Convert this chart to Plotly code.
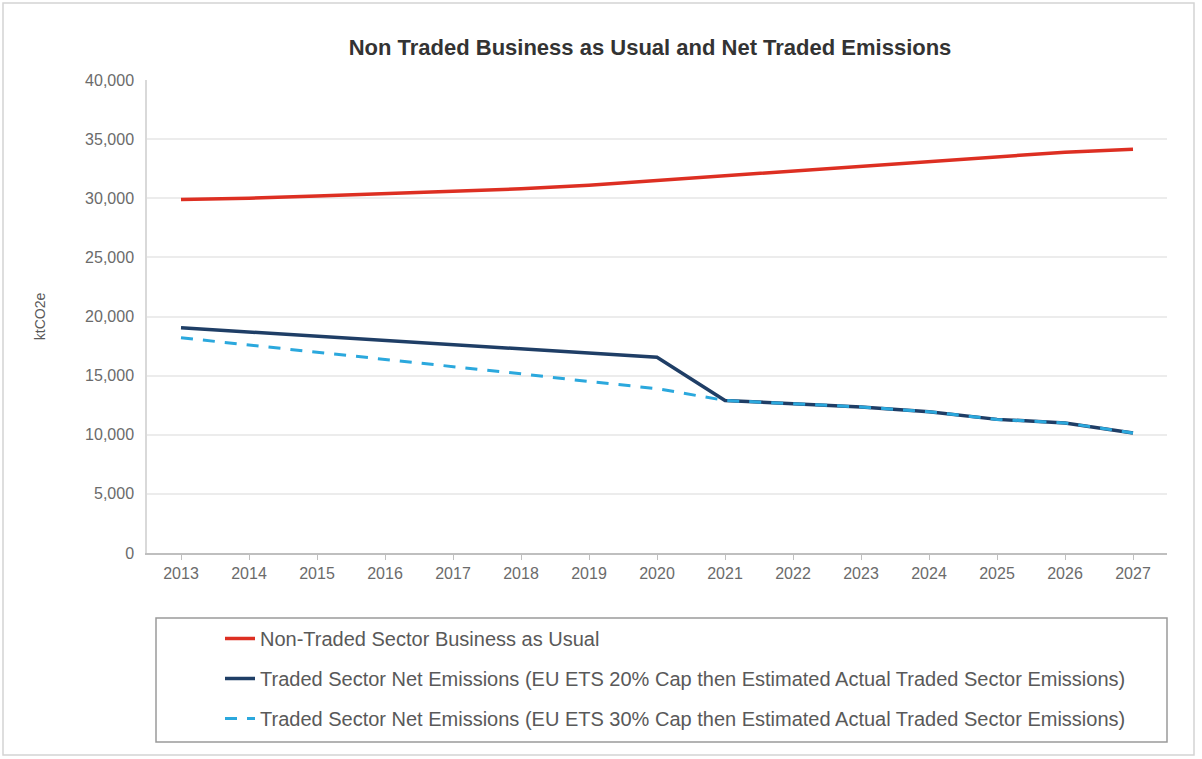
import plotly.graph_objects as go

# Years on the category axis
years = [str(y) for y in range(2013, 2028)]

# Non-traded sector, business as usual (ktCO2e)
non_traded_bau = [29900, 30000, 30200, 30400, 30600, 30800, 31100, 31500,
                  31950, 32300, 32700, 33100, 33500, 33900, 34150]

# Traded sector net emissions, EU ETS 20% cap then estimated actual
traded_20 = [19050, 18700, 18350, 18000, 17650, 17300, 16950, 16550,
             12900, 12600, 12350, 11950, 11300, 11000, 10150]

# Traded sector net emissions, EU ETS 30% cap then estimated actual
traded_30 = [18200, 17600, 17000, 16400, 15800, 15150, 14500, 13900,
             12900, 12600, 12350, 11950, 11300, 11000, 10150]

names = [
    "Non-Traded Sector Business as Usual",
    "Traded Sector Net Emissions (EU ETS 20% Cap then Estimated Actual Traded Sector Emissions)",
    "Traded Sector Net Emissions (EU ETS 30% Cap then Estimated Actual Traded Sector Emissions)",
]

FONT = "Liberation Sans, Arial, sans-serif"

fig = go.Figure()
fig.add_trace(go.Scatter(
    x=years, y=non_traded_bau, mode="lines", name=names[0], legendgroup="a",
    line=dict(color="#DD2F22", width=3.5)))
fig.add_trace(go.Scatter(
    x=years, y=traded_20, mode="lines", name=names[1], legendgroup="b",
    line=dict(color="#1F3E66", width=3.5)))
fig.add_trace(go.Scatter(
    x=years, y=traded_30, mode="lines", name=names[2], legendgroup="c",
    line=dict(color="#2BA8DD", width=3, dash="12px,10px")))

# legend frame and outer chart border
fig.add_shape(type="rect", xref="paper", yref="paper",
              x0=(156 - 147) / 1020, x1=1.0,
              y0=-(742 - 553) / 473, y1=-(618 - 553) / 473,
              line=dict(color="#9a9a9a", width=1.5), fillcolor="rgba(0,0,0,0)")
fig.add_shape(type="rect", xref="paper", yref="paper",
              x0=(3 - 147) / 1020, x1=(1194 - 147) / 1020,
              y0=-(755 - 553) / 473, y1=(553 - 3) / 473,
              line=dict(color="#d4d4d4", width=1.5), fillcolor="rgba(0,0,0,0)")

fig.update_layout(
    width=1202, height=759,
    margin=dict(l=147, r=35, t=80, b=206),
    paper_bgcolor="white", plot_bgcolor="white",
    font=dict(family=FONT, color="#6b6b6b"),
    title=dict(text="<b>Non Traded Business as Usual and Net Traded Emissions</b>",
               x=650 / 1202, xanchor="center", y=1 - 47 / 759, yanchor="middle",
               font=dict(size=22, color="#333333", family=FONT)),
    showlegend=True,
    legend=dict(x=(220 - 147) / 1020, xanchor="left",
                y=-(619 - 553) / 473, yanchor="top",
                orientation="v", tracegroupgap=11,
                font=dict(size=20, color="#595959", family=FONT),
                bgcolor="rgba(0,0,0,0)", borderwidth=0),
    xaxis=dict(type="category", range=[-0.5, 14.5],
               showgrid=False, showline=True, linecolor="#bfbfbf", linewidth=1.5,
               ticks="outside", ticklen=5, tickcolor="#bfbfbf",
               tickfont=dict(size=16, color="#6b6b6b", family=FONT)),
    yaxis=dict(range=[0, 40000], dtick=5000, tickformat=",",
               showgrid=True, gridcolor="#ececec", gridwidth=1.5,
               showline=True, linecolor="#d9d9d9", linewidth=1.5,
               ticks="outside", ticklen=8, tickcolor="#ffffff",
               zeroline=False,
               tickfont=dict(size=16, color="#6b6b6b", family=FONT),
               title=dict(text="ktCO2e", standoff=36,
                          font=dict(size=14, color="#595959", family=FONT))),
)

fig.write_html("out.html")
